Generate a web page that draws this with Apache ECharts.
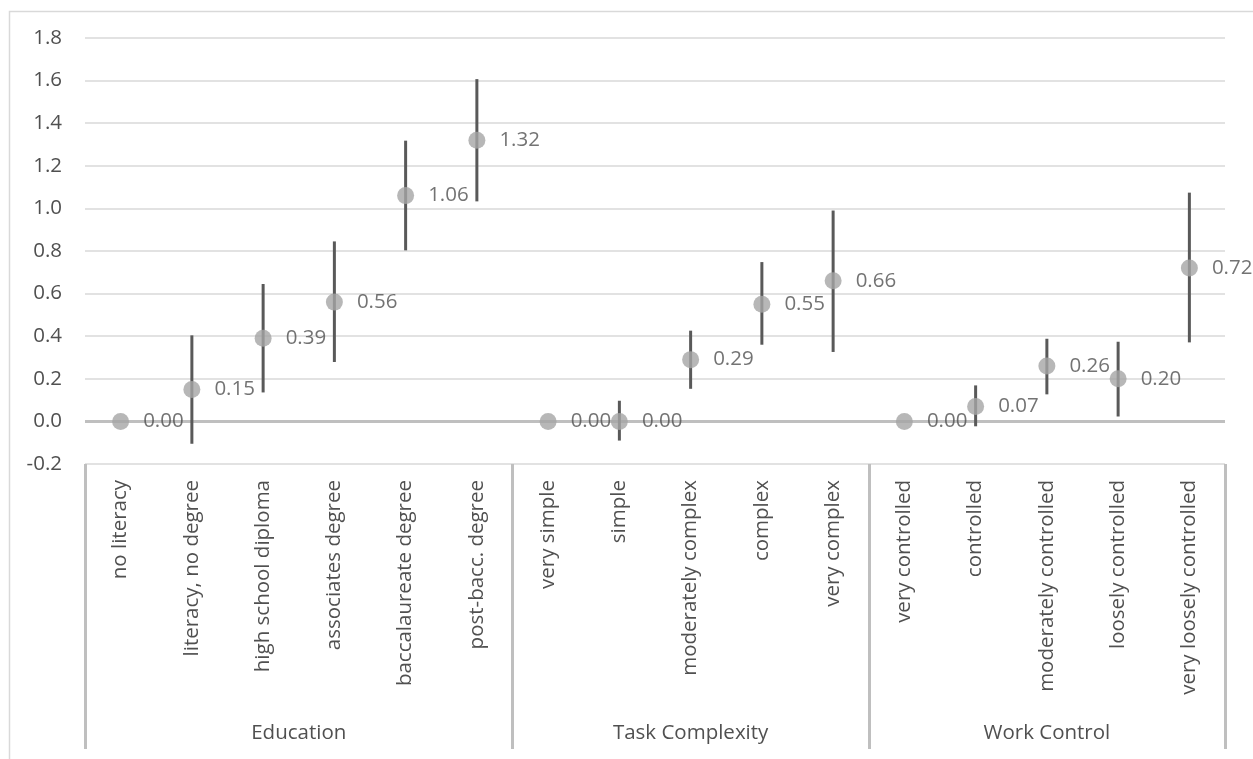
<!DOCTYPE html>
<html>
<head>
<meta charset="utf-8">
<script src="https://cdn.jsdelivr.net/npm/echarts@6/dist/echarts.min.js"></script>
<style>
html,body{margin:0;padding:0;background:#fff;}
#chart{width:1253px;height:759px;}
</style>
</head>
<body>
<div id="chart"></div>
<script>
// ---- data ----
const categories = [
  'no literacy','literacy, no degree','high school diploma','associates degree','baccalaureate degree','post-bacc. degree',
  'very simple','simple','moderately complex','complex','very complex',
  'very controlled','controlled','moderately controlled','loosely controlled','very loosely controlled'
];
const groupNames = ['Education','Task Complexity','Work Control'];
const groupSizes = [6, 5, 5];
const estimates = [0.00,0.15,0.39,0.56,1.06,1.32, 0.00,0.00,0.29,0.55,0.66, 0.00,0.07,0.26,0.20,0.72];
const ciLower = [null,-0.105,0.136,0.279,0.803,1.033, null,-0.09,0.153,0.360,0.326, null,-0.023,0.127,0.023,0.371];
const ciUpper = [null,0.404,0.645,0.845,1.318,1.607, null,0.097,0.426,0.748,0.990, null,0.169,0.388,0.374,1.074];
const yTicks = {min:-0.2, max:1.8, step:0.2};

// group boundaries and centres (in category units)
const bounds = [0]; groupSizes.forEach(s => bounds.push(bounds[bounds.length-1] + s));
const centres = groupSizes.map((s,i) => bounds[i] + s/2);

const FONT = 'Open Sans';
const TXT = '#505050';
const FS = 20.5;

const chart = echarts.init(document.getElementById('chart'), null, {renderer:'canvas'});
const errData = categories.map((c,i) => [i, ciLower[i], ciUpper[i]]).filter(d => d[1] !== null);

chart.setOption({
  animation:false,
  backgroundColor:'#ffffff',
  textStyle:{fontFamily:FONT},
  graphic:[{
    type:'rect', left:7, top:9, z:-10, silent:true,
    shape:{width:1300, height:800},
    style:{fill:'none', stroke:'#D9D9D9', lineWidth:1.5}
  }],
  grid:{left:85, right:28, top:38, bottom:295, containLabel:false},
  xAxis:[{
    type:'category', data:categories, boundaryGap:true,
    axisLine:{show:false}, axisTick:{show:false}, splitLine:{show:false},
    axisLabel:{rotate:90, margin:16, fontSize:FS, color:TXT, fontFamily:FONT, interval:0}
  },{
    type:'value', min:0, max:bounds[bounds.length-1], position:'bottom', offset:285,
    axisLine:{show:false}, splitLine:{show:false},
    axisTick:{show:true, inside:true, length:285, customValues:bounds,
      lineStyle:{color:'#BFBFBF', width:3}},
    axisLabel:{show:true, inside:true, margin:5, customValues:centres, fontSize:FS, color:TXT, fontFamily:FONT,
      formatter:(v) => { const k = centres.findIndex(c => Math.abs(c - v) < 1e-6); return k >= 0 ? groupNames[k] : ''; }}
  }],
  yAxis:{
    type:'value', min:yTicks.min, max:yTicks.max, interval:yTicks.step,
    axisLine:{show:false}, axisTick:{show:false},
    splitLine:{lineStyle:{color:'#D9D9D9', width:1.5}},
    axisLabel:{margin:23, fontSize:FS, color:TXT, fontFamily:FONT, formatter:(v) => v.toFixed(1)}
  },
  series:[{
    type:'custom', name:'ci', xAxisIndex:0, z:2,
    data:errData,
    encode:{x:0, y:[1,2]},
    renderItem:(params, api) => {
      const lo = api.coord([api.value(0), api.value(1)]);
      const hi = api.coord([api.value(0), api.value(2)]);
      return {type:'line', shape:{x1:lo[0], y1:lo[1], x2:hi[0], y2:hi[1]},
        style:{stroke:'#595959', lineWidth:3}};
    }
  },{
    type:'scatter', name:'est', xAxisIndex:0, z:3,
    data:estimates, symbol:'circle', symbolSize:17,
    itemStyle:{color:'#A5A5A5'},
    label:{show:true, position:'right', distance:14, fontSize:FS, color:TXT, fontFamily:FONT,
      formatter:(p) => p.value.toFixed(2)},
    markLine:{silent:true, symbol:'none', label:{show:false}, z:1,
      lineStyle:{color:'#BFBFBF', width:3, type:'solid'},
      data:[{yAxis:0}]}
  }]
});
</script>
</body>
</html>
